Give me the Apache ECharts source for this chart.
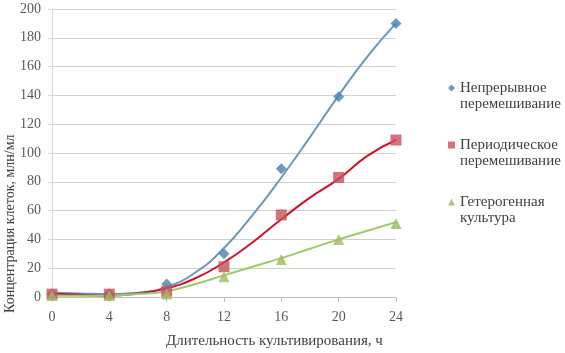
<!DOCTYPE html>
<html>
<head>
<meta charset="utf-8">
<script src="https://cdn.jsdelivr.net/npm/echarts@6/dist/echarts.min.js"></script>
<style>html,body{margin:0;padding:0;background:#fff}#c{width:565px;height:353px}</style>
</head>
<body>
<div id="c"></div>
<script>
// Data
const hours = [0, 4, 8, 12, 16, 20, 24];
const continuous = [2, 2, 9, 30, 89, 139, 190];
const periodic = [2, 2, 4, 21, 57, 83, 109];
const hetero = [1, 1, 2, 14, 26, 40, 51];
// Trend curves (every 2 h)
const trendHours = [0, 2, 4, 6, 8, 10, 12, 14, 16, 18, 20, 22, 24];
const continuousTrend = [3, 2.5, 2, 3, 7, 17, 34, 57, 83, 111, 140, 167, 190];
const periodicTrend = [2.5, 1.5, 1, 2.5, 6, 13, 24, 38, 54, 69, 82, 98, 109];
const heteroTrend = [1, 0.8, 1, 2, 4, 9, 15, 21, 27, 33.5, 40, 46, 52];
const seriesNames = ['Непрерывное\nперемешивание', 'Периодическое\nперемешивание', 'Гетерогенная\nкультура'];
const yTicks = {min: 0, max: 200, interval: 20};
const xTicks = {min: 0, max: 24, interval: 4};

const pair = (xs, ys) => xs.map((x, i) => [x, ys[i]]);
const font = '"Liberation Serif", "DejaVu Serif", serif';
// legend icons: shape at the top so it lines up with the first text line
const pad = ' M0,23L7,23';
const icons = ['path://M3.5,0L7,3.5L3.5,7L0,3.5Z' + pad, 'path://M0,0L7,0L7,7L0,7Z' + pad, 'path://M3.5,0L7,7L0,7Z' + pad];
const chart = echarts.init(document.getElementById('c'));
chart.setOption({
  animation: false,
  textStyle: {fontFamily: font},
  grid: {left: 52, right: 169, top: 9, bottom: 56},
  xAxis: {
    type: 'value', min: xTicks.min, max: xTicks.max, interval: xTicks.interval,
    axisLine: {lineStyle: {color: '#bfbfbf'}},
    axisTick: {show: true, length: 5, lineStyle: {color: '#bfbfbf'}},
    axisLabel: {color: '#595959', fontSize: 14, fontFamily: font, margin: 13},
    splitLine: {show: false}
  },
  yAxis: {
    type: 'value', min: yTicks.min, max: yTicks.max, interval: yTicks.interval,
    axisLine: {show: true, lineStyle: {color: '#d9d9d9'}},
    axisTick: {show: true, length: 4, lineStyle: {color: '#d9d9d9'}},
    axisLabel: {color: '#595959', fontSize: 14, fontFamily: font, margin: 11},
    splitLine: {lineStyle: {color: '#d0d0d0'}}
  },
  legend: {
    orient: 'vertical', left: 448, top: 80, itemGap: 25, padding: 0,
    itemWidth: 7, itemHeight: 23,
    textStyle: {color: '#404040', fontSize: 15, fontFamily: font, lineHeight: 16},
    data: seriesNames.map((n, i) => ({name: n, icon: icons[i]}))
  },
  graphic: [
    {type: 'text', left: 166, top: 334,
     style: {text: 'Длительность культивирования, ч', font: '15px ' + font, fill: '#404040'}},
    {type: 'text', x: 3, y: 313, rotation: Math.PI / 2,
     style: {text: 'Концентрация клеток, млн/мл', font: '14px ' + font, fill: '#404040', textAlign: 'left', textVerticalAlign: 'top'}}
  ],
  series: [
    {name: 'trend1', type: 'line', smooth: true, showSymbol: false, data: pair(trendHours, continuousTrend),
     lineStyle: {color: '#6a96bd', width: 2}, z: 2},
    {name: 'trend2', type: 'line', smooth: true, showSymbol: false, data: pair(trendHours, periodicTrend),
     lineStyle: {color: '#d0112b', width: 2}, z: 2},
    {name: 'trend3', type: 'line', smooth: true, showSymbol: false, data: pair(trendHours, heteroTrend),
     lineStyle: {color: '#9ccb6a', width: 2}, z: 2},
    {name: seriesNames[0], type: 'scatter', symbol: 'diamond', symbolSize: 11, data: pair(hours, continuous),
     itemStyle: {color: '#4a7fb5'}, z: 3},
    {name: seriesNames[1], type: 'scatter', symbol: 'rect', symbolSize: 11, data: pair(hours, periodic),
     itemStyle: {color: '#c8505a'}, z: 3},
    {name: seriesNames[2], type: 'scatter', symbol: 'triangle', symbolSize: 11, data: pair(hours, hetero),
     itemStyle: {color: '#9bbb59'}, z: 3}
  ]
});
</script>
</body>
</html>
